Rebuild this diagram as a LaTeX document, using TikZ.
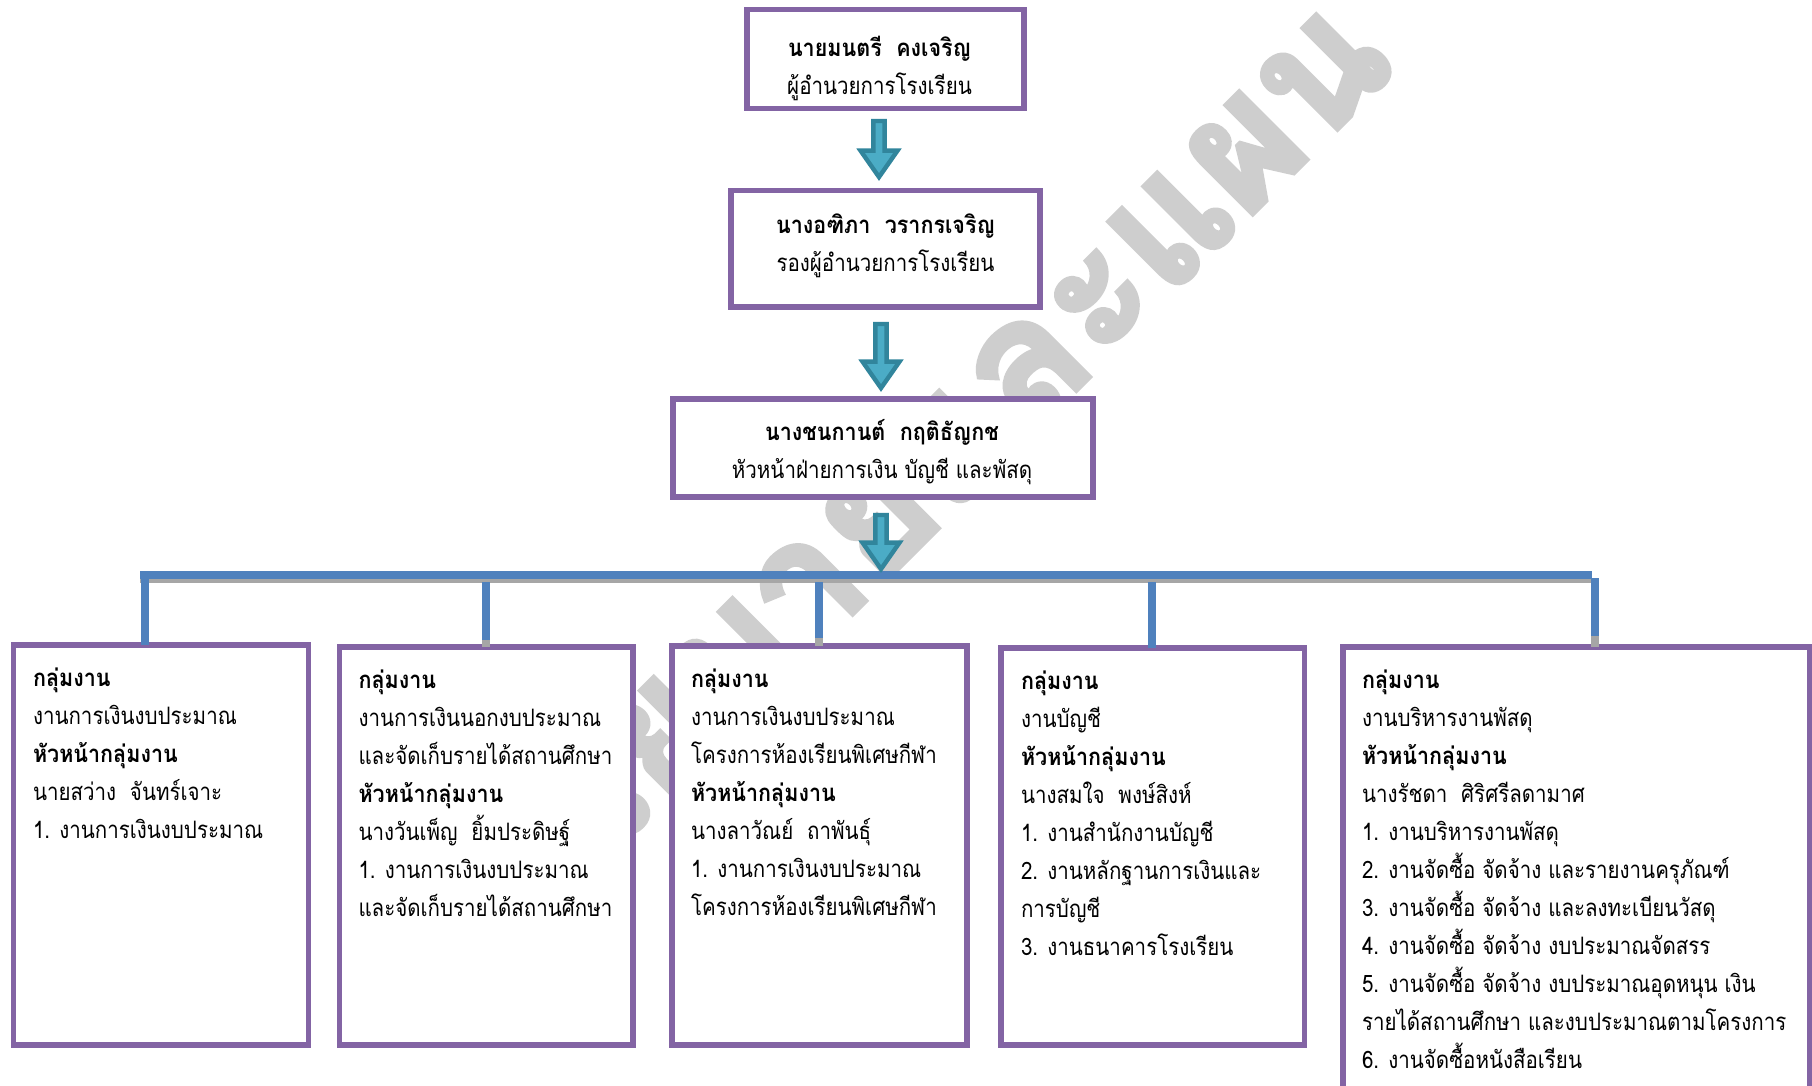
\documentclass[tikz,border=0pt]{standalone}
\usepackage{fontspec}
\usetikzlibrary{shapes.arrows}
\setmainfont[Script=Thai,FakeStretch=0.855,BoldFeatures={FakeStretch=0.896}]{Loma}
\newfontfamily\wmfont[Script=Thai,BoldFeatures={FakeBold=3}]{Loma}
\definecolor{boxpurple}{HTML}{8364A4}
\definecolor{barblue}{HTML}{4F81BD}
\definecolor{arrowfill}{HTML}{4BACC6}
\definecolor{arrowline}{HTML}{31859C}
\definecolor{barshadow}{HTML}{A6A6A6}
\definecolor{wmgray}{HTML}{CECECE}
\newcommand{\orgtext}[5]{\hspace*{#3pt}\begin{minipage}[t][#2pt][t]{\dimexpr#1pt-#3pt\relax}\fontsize{24}{38}\selectfont\vspace*{#4pt}#5\end{minipage}}
\tikzset{
  orgbox/.style={draw=boxpurple,line width=5.2pt,fill=white,anchor=north west,inner sep=0pt,outer sep=0pt},
  downarrow/.style={single arrow,draw=arrowline,fill=arrowfill,line width=4.4pt,rotate=-90,inner sep=0pt,outer sep=0pt,
    minimum width=37pt,single arrow head extend=5pt,single arrow tip angle=70,single arrow head indent=0pt},
  hbar/.style={draw=barblue,line width=7.6pt},
  hshadow/.style={draw=barshadow,line width=4.5pt},
  vbar/.style={draw=barblue,line width=7.4pt},
  vshadow/.style={draw=barshadow,line width=7.4pt}
}
\begin{document}
\begin{tikzpicture}[x=1pt,y=-1pt]
\useasboundingbox (0,0) rectangle (1812,1085);
\fill[white] (0,0) rectangle (1812,1085);
\node[text=wmgray,rotate=45,anchor=south east,inner sep=0pt,font=\wmfont\bfseries\fontsize{172}{172}\selectfont] (wm) at (1400,68) {นโยบายและแผน};
\coordinate (barL) at (140,575);
\coordinate (barR) at (1592,575);
\coordinate (shL) at (140,581);
\coordinate (shR) at (1592,581);
\coordinate (v1) at (145,578);
\coordinate (v2) at (486,582);
\coordinate (v3) at (819,582);
\coordinate (v4) at (1152,582);
\coordinate (v5) at (1595,578);
\coordinate (v2g) at (486,640);
\coordinate (v3g) at (819,638);
\coordinate (v5g) at (1595,636);
\draw[hshadow] (shL) -- (shR);
\draw[hbar] (barL) -- (barR);
\node[orgbox,minimum width=277pt,minimum height=99pt] (top) at (747,9.5) {\orgtext{277}{99}{-12}{27}{\centering\textbf{นายมนตรี~~คงเจริญ}\\ผู้อำนวยการโรงเรียน}};
\node[orgbox,minimum width=309pt,minimum height=116.5pt] (dep) at (731,190.5) {\orgtext{309}{116.5}{0}{23}{\centering\textbf{นางอฑิภา~~วรากรเจริญ}\\รองผู้อำนวยการโรงเรียน}};
\node[orgbox,minimum width=420pt,minimum height=98pt] (head) at (673,399) {\orgtext{420}{98}{-2}{20}{\centering\textbf{นางชนกานต์~~กฤติธัญกช}\\หัวหน้าฝ่ายการเงิน บัญชี และพัสดุ}};
\node[orgbox,minimum width=295pt,minimum height=400pt] (g1) at (13.5,645) {\orgtext{295}{400}{19.5}{23}{\raggedright\textbf{กลุ่มงาน}\\งานการเงินงบประมาณ\\\textbf{หัวหน้ากลุ่มงาน}\\นายสว่าง~~จันทร์เจาะ\\1. งานการเงินงบประมาณ}};
\node[orgbox,minimum width=293.5pt,minimum height=398pt] (g2) at (339.5,647) {\orgtext{293.5}{398}{19}{23}{\raggedright\textbf{กลุ่มงาน}\\งานการเงินนอกงบประมาณ\\และจัดเก็บรายได้สถานศึกษา\\\textbf{หัวหน้ากลุ่มงาน}\\นางวันเพ็ญ~~ยิ้มประดิษฐ์\\1. งานการเงินงบประมาณ\\และจัดเก็บรายได้สถานศึกษา}};
\node[orgbox,minimum width=295pt,minimum height=399pt] (g3) at (672,646) {\orgtext{295}{399}{19}{23}{\raggedright\textbf{กลุ่มงาน}\\งานการเงินงบประมาณ\\โครงการห้องเรียนพิเศษกีฬา\\\textbf{หัวหน้ากลุ่มงาน}\\นางลาวัณย์~~ถาพันธุ์\\1. งานการเงินงบประมาณ\\โครงการห้องเรียนพิเศษกีฬา}};
\node[orgbox,minimum width=303.5pt,minimum height=397pt] (g4) at (1001,648) {\orgtext{303.5}{397}{20}{23}{\raggedright\textbf{กลุ่มงาน}\\งานบัญชี\\\textbf{หัวหน้ากลุ่มงาน}\\นางสมใจ~~พงษ์สิงห์\\1. งานสำนักงานบัญชี\\2. งานหลักฐานการเงินและ\\การบัญชี\\3. งานธนาคารโรงเรียน}};
\node[orgbox,minimum width=467pt,minimum height=470pt] (g5) at (1343,647) {\orgtext{467}{470}{19}{23}{\raggedright\textbf{กลุ่มงาน}\\งานบริหารงานพัสดุ\\\textbf{หัวหน้ากลุ่มงาน}\\นางรัชดา~~ศิริศรีลดามาศ\\1. งานบริหารงานพัสดุ\\2. งานจัดซื้อ จัดจ้าง และรายงานครุภัณฑ์\\3. งานจัดซื้อ จัดจ้าง และลงทะเบียนวัสดุ\\4. งานจัดซื้อ จัดจ้าง งบประมาณจัดสรร\\5. งานจัดซื้อ จัดจ้าง งบประมาณอุดหนุน เงิน\\รายได้สถานศึกษา และงบประมาณตามโครงการ\\6. งานจัดซื้อหนังสือเรียน}};
\draw[vbar] (v1) -- (v1 |- g1.north);
\draw[vshadow] (v2g) -- (v2g |- g2.north);
\draw[vbar] (v2) -- (v2g);
\draw[vshadow] (v3g) -- (v3g |- g3.north);
\draw[vbar] (v3) -- (v3g);
\draw[vbar] (v4) -- (v4 |- g4.north);
\draw[vshadow] (v5g) -- (v5g |- g5.north);
\draw[vbar] (v5) -- (v5g);
\node[downarrow,minimum height=56pt] (a1) at (879,145) {};
\node[downarrow,minimum height=64pt] (a2) at (881,352) {};
\node[downarrow,minimum height=54pt] (a3) at (881,538) {};
\end{tikzpicture}
\end{document}
